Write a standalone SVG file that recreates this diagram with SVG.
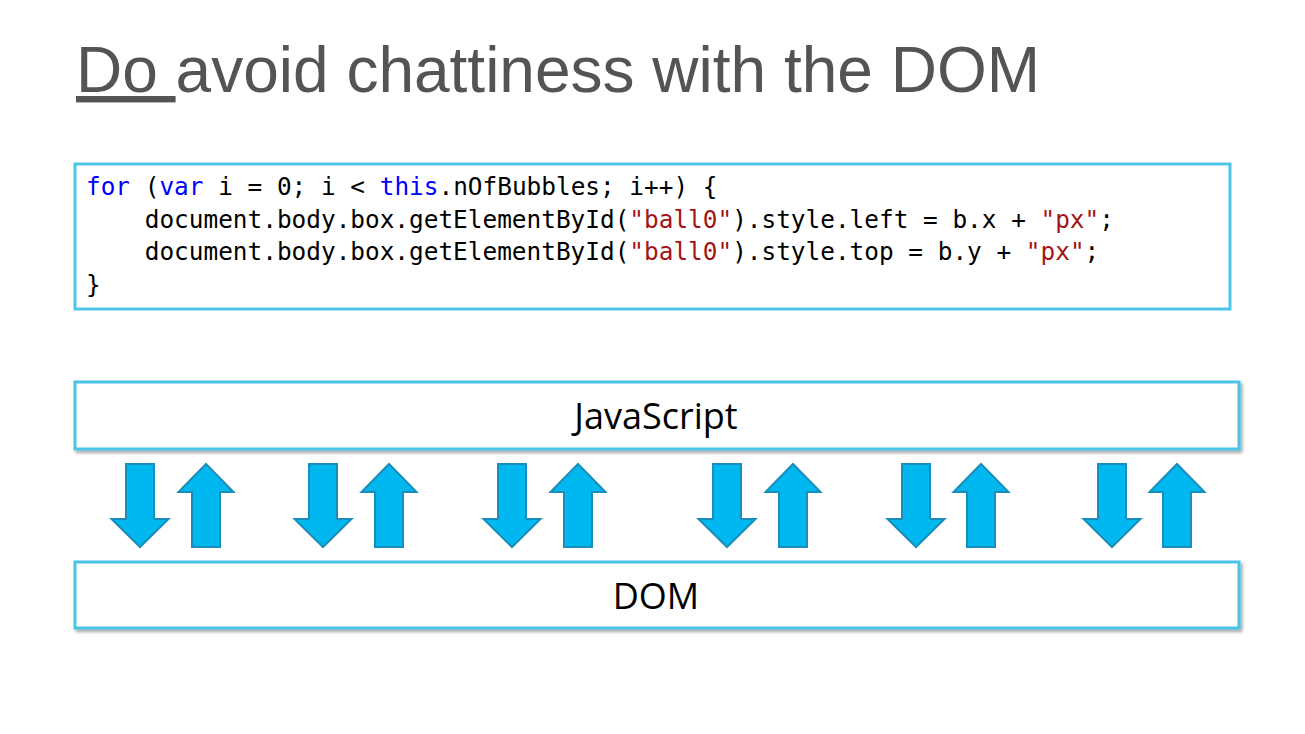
<svg xmlns="http://www.w3.org/2000/svg" width="1305" height="734" viewBox="0 0 1305 734">
<defs>
<style>
.title{font-family:"Liberation Sans",Arial,sans-serif;font-size:64px;fill:#545454}
.code{font-family:"DejaVu Sans Mono","Liberation Mono",monospace;font-size:24.4px;fill:#000}
.kw{fill:#0000ff}
.str{fill:#a31515}
.box{fill:#fff;stroke:#4cc3e8;stroke-width:3}
.label{font-family:"Open Sans","Noto Sans",sans-serif;font-size:36px;fill:#000;text-anchor:middle}
.arrow{fill:#00b8ef;stroke:#1a8ebb;stroke-width:2;stroke-linejoin:miter}
</style>
<filter id="shadow" x="-5%" y="-20%" width="110%" height="150%">
<feDropShadow dx="2" dy="2.5" stdDeviation="1.5" flood-color="#000" flood-opacity="0.35"/>
</filter>
<path id="down" d="M-14,464 L14,464 L14,519 L28.5,519 L0,547 L-28.5,519 L-14,519 Z"/>
<path id="up" d="M0,464 L27.5,492 L14,492 L14,547 L-14,547 L-14,492 L-27.5,492 Z"/>
</defs>
<rect width="1305" height="734" fill="#fff"/>
<g id="title">
<text class="title" x="76" y="92" xml:space="preserve"><tspan text-decoration="underline">Do </tspan>avoid chattiness with the DOM</text>
</g>
<g id="code">
<rect class="box" x="75" y="164" width="1155" height="145"/>
<text class="code" x="86" y="195" xml:space="preserve"><tspan class="kw">for</tspan> (<tspan class="kw">var</tspan> i = 0; i &lt; <tspan class="kw">this</tspan>.nOfBubbles; i++) {</text>
<text class="code" x="86" y="228" xml:space="preserve">    document.body.box.getElementById(<tspan class="str">"ball0"</tspan>).style.left = b.x + <tspan class="str">"px"</tspan>;</text>
<text class="code" x="86" y="260" xml:space="preserve">    document.body.box.getElementById(<tspan class="str">"ball0"</tspan>).style.top = b.y + <tspan class="str">"px"</tspan>;</text>
<text class="code" x="86" y="293">}</text>
</g>
<g id="javascript">
<rect class="box" x="75" y="382" width="1164" height="67" filter="url(#shadow)"/>
<text class="label" x="656" y="429">JavaScript</text>
</g>
<g id="dom">
<rect class="box" x="75" y="562" width="1164" height="66" filter="url(#shadow)"/>
<text class="label" x="656" y="609">DOM</text>
</g>
<g id="connectors">
<use href="#down" class="arrow" x="140"/>
<use href="#up" class="arrow" x="206"/>
<use href="#down" class="arrow" x="323"/>
<use href="#up" class="arrow" x="389"/>
<use href="#down" class="arrow" x="512"/>
<use href="#up" class="arrow" x="578"/>
<use href="#down" class="arrow" x="727"/>
<use href="#up" class="arrow" x="793"/>
<use href="#down" class="arrow" x="916"/>
<use href="#up" class="arrow" x="981"/>
<use href="#down" class="arrow" x="1112"/>
<use href="#up" class="arrow" x="1177"/>
</g>
</svg>
